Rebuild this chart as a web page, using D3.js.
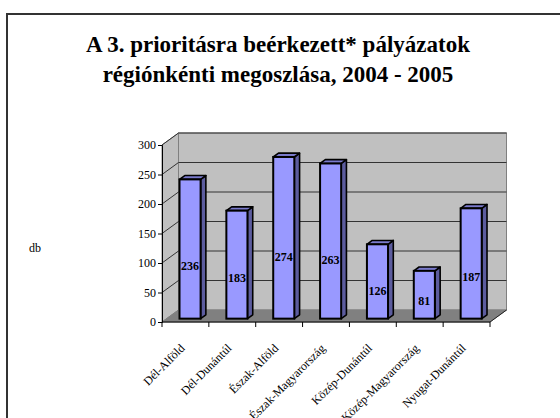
<!DOCTYPE html>
<html>
<head>
<meta charset="utf-8">
<script src="https://cdn.jsdelivr.net/npm/d3@7"></script>
<style>
  body { margin: 0; background: #fff; }
  svg { display: block; }
  text { font-family: "Liberation Serif", "DejaVu Serif", serif; fill: #000; }
</style>
</head>
<body>
<svg id="chart" width="560" height="418"></svg>
<script>
// data
const regions = ["Dél-Alföld", "Dél-Dunántúl", "Észak-Alföld", "Észak-Magyarország",
                 "Közép-Dunántúl", "Közép-Magyarország", "Nyugat-Dunántúl"];
const counts = [236, 183, 274, 263, 126, 81, 187];
const yTicks = [0, 50, 100, 150, 200, 250, 300];
const titleLines = ["A 3. prioritásra beérkezett* pályázatok", "régiónkénti megoszlása, 2004 - 2005"];
const yLabel = "db";

const serif = "Liberation Serif";
let svg = d3.select("#chart");

// frame
svg.append("rect")
  .attr("x", 7).attr("y", 14)
  .attr("width", 570).attr("height", 420)
  .attr("fill", "#fff")
  .attr("stroke", "#333").attr("stroke-width", 2);

// title
svg.selectAll("text.title")
  .data(titleLines)
  .enter().append("text")
    .attr("class", "title")
    .attr("x", 278)
    .attr("y", (d, i) => 52 + i * 30)
    .attr("text-anchor", "middle")
    .attr("font-family", serif)
    .attr("font-size", 23)
    .attr("font-weight", "bold")
    .text(d => d);

// 3d plot geometry
let left = 162, right = 490;
let depth = {dx: 16.5, dy: -12};

let y = d3.scaleLinear().domain([0, 300]).range([322, 145]);
let x = d3.scaleBand().domain(regions).range([left, right]);
let bw = x.bandwidth();
let y0 = y(0);

let g = svg.append("g");

const pts = arr => arr.map(p => p.join(",")).join(" ");

// side wall
g.append("polygon")
  .attr("points", pts([[left, y0], [left, y(300)], [left + depth.dx, y(300) + depth.dy], [left + depth.dx, y0 + depth.dy]]))
  .attr("fill", "#c0c0c0").attr("stroke", "#808080");

// back wall
g.append("rect")
  .attr("x", left + depth.dx).attr("y", y(300) + depth.dy)
  .attr("width", right - left).attr("height", y0 - y(300))
  .attr("fill", "#c0c0c0").attr("stroke", "#808080");

// floor
g.append("polygon")
  .attr("points", pts([[left, y0], [right, y0], [right + depth.dx, y0 + depth.dy], [left + depth.dx, y0 + depth.dy]]))
  .attr("fill", "#808080").attr("stroke", "#808080");

// gridlines
let grid = yTicks.filter(t => t > 0);
g.selectAll("line.gback").data(grid).enter().append("line")
  .attr("x1", left + depth.dx).attr("x2", right + depth.dx)
  .attr("y1", d => y(d) + depth.dy).attr("y2", d => y(d) + depth.dy)
  .attr("stroke", "#333").attr("stroke-width", 1);
g.selectAll("line.gside").data(grid).enter().append("line")
  .attr("x1", left).attr("x2", left + depth.dx)
  .attr("y1", d => y(d)).attr("y2", d => y(d) + depth.dy)
  .attr("stroke", "#333").attr("stroke-width", 1);

// floor right edge
g.append("line")
  .attr("x1", right).attr("y1", y0)
  .attr("x2", right + depth.dx).attr("y2", y0 + depth.dy)
  .attr("stroke", "#222");

// axes
let yAxis = d3.axisLeft(y).tickValues(yTicks).tickSize(4).tickPadding(2);
let ya = svg.append("g").attr("transform", "translate(" + left + ",0)").call(yAxis);
ya.attr("font-family", serif);
ya.select(".domain").attr("stroke", "#000");
ya.selectAll("text").attr("font-size", 12).attr("font-family", serif).attr("fill", "#000");

let bounds = d3.range(regions.length + 1).map(i => left + i * bw);
svg.append("line")
  .attr("x1", left).attr("x2", right).attr("y1", y0).attr("y2", y0)
  .attr("stroke", "#000");
svg.selectAll("line.xtick").data(bounds).enter().append("line")
  .attr("x1", d => d).attr("x2", d => d)
  .attr("y1", y0).attr("y2", y0 + 5)
  .attr("stroke", "#000");

// bars
let f0 = 0.28, f1 = 0.6;
let barW = bw * 0.45;
let bars = svg.selectAll("g.bar")
  .data(regions.map((r, i) => ({r: r, v: counts[i]})))
  .enter().append("g").attr("class", "bar");

function face(d) {
  let xl = x(d.r) + (bw - barW) / 2 + f0 * depth.dx;
  let xr = xl + barW;
  let yb = y0 + f0 * depth.dy;
  let yt = y(d.v) + f0 * depth.dy;
  let ox = (f1 - f0) * depth.dx, oy = (f1 - f0) * depth.dy;
  return {xl, xr, yb, yt, ox, oy};
}

bars.append("polygon")
  .attr("points", d => { let f = face(d); return pts([[f.xr, f.yb], [f.xr, f.yt], [f.xr + f.ox, f.yt + f.oy], [f.xr + f.ox, f.yb + f.oy]]); })
  .attr("fill", "#5c5c9e").attr("stroke", "#000").attr("stroke-width", 1.6).attr("stroke-linejoin", "round");
bars.append("polygon")
  .attr("points", d => { let f = face(d); return pts([[f.xl, f.yt], [f.xr, f.yt], [f.xr + f.ox, f.yt + f.oy], [f.xl + f.ox, f.yt + f.oy]]); })
  .attr("fill", "#7a7acc").attr("stroke", "#000").attr("stroke-width", 1.6).attr("stroke-linejoin", "round");
bars.append("rect")
  .attr("x", d => face(d).xl).attr("y", d => face(d).yt)
  .attr("width", barW).attr("height", d => face(d).yb - face(d).yt)
  .attr("fill", "#9999ff").attr("stroke", "#000").attr("stroke-width", 2);

// value labels
bars.append("text")
  .attr("x", d => face(d).xl + barW / 2)
  .attr("y", d => y(d.v * 0.38) + f0 * depth.dy)
  .attr("dy", "0.35em")
  .attr("text-anchor", "middle")
  .attr("font-family", serif)
  .attr("font-size", 12).attr("font-weight", "bold")
  .text(d => d.v);

// category labels
svg.selectAll("text.cat").data(regions).enter().append("text")
  .attr("class", "cat")
  .attr("transform", d => "translate(" + (x(d) + bw / 2) + "," + (y0 + 27) + ") rotate(-45)")
  .attr("text-anchor", "end")
  .attr("font-family", serif)
  .attr("font-size", 12)
  .text(d => d);

// y label
svg.append("text")
  .attr("x", 29).attr("y", 252)
  .attr("font-family", serif)
  .attr("font-size", 12)
  .text(yLabel);
</script>
</body>
</html>
